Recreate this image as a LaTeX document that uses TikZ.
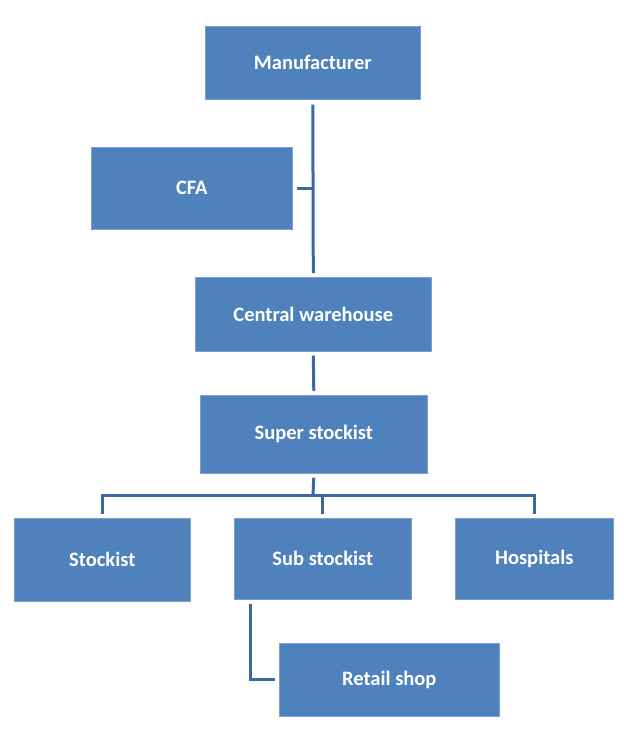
\documentclass[tikz,border=0pt]{standalone}
\usepackage{fontspec}
\setmainfont{Carlito}
\definecolor{boxblue}{HTML}{4F81BD}
\definecolor{boxedge}{HTML}{7BA0CF}
\definecolor{linkblue}{HTML}{3C68A4}
\begin{document}
\begin{tikzpicture}[x=1pt,y=-1pt,
  box/.style={draw=boxedge,line width=0.6pt,fill=boxblue,anchor=north west,inner sep=0pt,
    text=white,font=\fontsize{20.5}{24}\selectfont\bfseries},
  link/.style={draw=linkblue,line width=3pt}]
\useasboundingbox[fill=white] (0,0) rectangle (624,740);
\node[box,minimum width=215pt,minimum height=73pt] (man) at (205,26) {Manufacturer};
\node[box,minimum width=201pt,minimum height=82pt] (cfa) at (91,147) {CFA};
\node[box,minimum width=236pt,minimum height=74pt] (cw) at (195,277) {Central warehouse};
\node[box,minimum width=227pt,minimum height=78pt] (ss) at (200,395) {Super stockist};
\node[box,minimum width=176pt,minimum height=83pt] (st) at (14,518) {Stockist};
\node[box,minimum width=177pt,minimum height=81pt] (sub) at (234,518) {Sub stockist};
\node[box,minimum width=158pt,minimum height=81pt] (hos) at (455,518) {Hospitals};
\node[box,minimum width=220pt,minimum height=73pt] (ret) at (279,643) {Retail shop};
\coordinate (bus) at (313,495);
% connectors
\draw[link] ([yshift=-5pt]man.south) -- ([yshift=4pt]cw.north);
\draw[link] ([xshift=4pt]cfa.east) -- (cfa.east -| man.south);
\draw[link] ([yshift=-4pt]cw.south) -- ([yshift=4pt]ss.north);
\draw[link] ([yshift=-4pt]ss.south) -- (bus);
\draw[link] ([yshift=4pt]st.north) |- (hos.north |- bus) -- ([yshift=4pt]hos.north);
\draw[link] ([yshift=4pt]sub.north) -- (sub.north |- bus);
\draw[link] ([shift={(16pt,-4pt)}]sub.south west) |- ([xshift=-4pt]ret.west);
\end{tikzpicture}
\end{document}
